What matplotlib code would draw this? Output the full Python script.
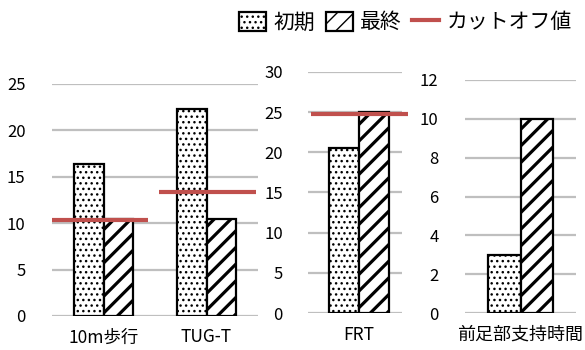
import matplotlib
matplotlib.use("Agg")
import matplotlib.pyplot as plt
from matplotlib.patches import Patch
from matplotlib.lines import Line2D

plt.rcParams['font.family'] = ['Noto Sans CJK JP', 'DejaVu Sans']

# ---- data ----
cats_a = ["10m歩行", "TUG-T"]
init_a = [16.4, 22.3]
final_a = [10.5, 10.5]
cut_a = [10.3, 13.4]

cats_b = ["FRT"]
init_b = [20.5]
final_b = [25.0]
cut_b = [24.8]

cats_c = ["前足部支持時間"]
init_c = [3.0]
final_c = [10.0]

yt_a = [0, 5, 10, 15, 20, 25]
yt_b = [0, 5, 10, 15, 20, 25, 30]
yt_c = [0, 2, 4, 6, 8, 10, 12]

legend_labels = ["初期", "最終", "カットオフ値"]

RED = "#C0504D"
GRID = "#BFBFBF"
W, H = 585, 350

fig = plt.figure(figsize=(W / 100, H / 100), dpi=100)


def add_ax(x0, x1, ytop, ybot):
    return fig.add_axes([x0 / W, (H - ybot) / H, (x1 - x0) / W, (ybot - ytop) / H])


def style(ax, ylim, yticks, pad):
    ax.set_ylim(*ylim)
    ax.set_yticks(yticks)
    for s in ax.spines.values():
        s.set_visible(False)
    ax.tick_params(axis='both', length=0, labelsize=12, colors='black')
    ax.tick_params(axis='y', pad=pad)
    ax.tick_params(axis='x', pad=9, labelsize=12.5)
    ax.grid(axis='y', color=GRID, linewidth=1.6)
    ax.set_axisbelow(True)


def set_hlw(p, lw):
    try:
        p.set_hatch_linewidth(lw)
    except Exception:
        pass


def bars(ax, xs, vals, offset, width, hatch, hlw):
    bs = ax.bar([x + offset for x in xs], vals, width=width, align='edge',
                facecolor='white', edgecolor='black', linewidth=1.6, hatch=hatch,
                zorder=3)
    for b in bs:
        set_hlw(b, hlw)
    return bs


DOT = '...'
DIAG = '//'
DOT_LW = 1.0
DIAG_LW = 2.3

# panel A
ax1 = add_ax(52, 258, 84, 316)
xa = list(range(len(cats_a)))
style(ax1, (0, 25), yt_a, 19)
ax1.set_xlim(-0.5, len(cats_a) - 0.5)
w = 0.29
bars(ax1, xa, init_a, -w, w, DOT, DOT_LW)
bars(ax1, xa, final_a, 0, w, DIAG, DIAG_LW)
ext_a = [(-0.50, 0.43), (-0.46, 0.48)]
for x, c, (l, r) in zip(xa, cut_a, ext_a):
    ax1.plot([x + l, x + r], [c, c], color=RED, linewidth=3, zorder=4,
             solid_capstyle='butt', clip_on=False)
ax1.set_xticks(xa)
ax1.set_xticklabels(cats_a)

# panel B
ax2 = add_ax(308, 402, 72, 313)
style(ax2, (0, 30), yt_b, 18)
ax2.set_xlim(-0.5, 0.5)
xb = [0.04]
wb = 0.32
bars(ax2, xb, init_b, -wb, wb, DOT, DOT_LW)
bars(ax2, xb, final_b, 0, wb, DIAG, DIAG_LW)
for x, c in zip([0.0], cut_b):
    ax2.plot([x - 0.47, x + 0.56], [c, c], color=RED, linewidth=3, zorder=4,
             solid_capstyle='butt', clip_on=False)
ax2.set_xticks(xb)
ax2.set_xticklabels(cats_b)

# panel C
ax3 = add_ax(465, 576, 80, 313)
style(ax3, (0, 12), yt_c, 19)
ax3.set_xlim(-0.5, 0.5)
xc = [0.0]
wc = 0.29
bars(ax3, xc, init_c, -wc, wc, DOT, DOT_LW)
bars(ax3, xc, final_c, 0, wc, DIAG, DIAG_LW)
ax3.set_xticks(xc)
ax3.set_xticklabels(cats_c, fontsize=13)

# legend
h1 = Patch(facecolor='white', edgecolor='black', hatch=DOT, linewidth=1.6)
h2 = Patch(facecolor='white', edgecolor='black', hatch=DIAG, linewidth=1.6)
set_hlw(h1, DOT_LW)
set_hlw(h2, DIAG_LW)
h3 = Line2D([0], [0], color=RED, linewidth=3)
fig.legend([h1, h2, h3], legend_labels, loc='upper right',
           bbox_to_anchor=(580 / W, 1 - 3 / H), ncol=3, frameon=False,
           fontsize=15, handlelength=1.3, handleheight=1.0,
           handletextpad=0.35, columnspacing=0.5, borderaxespad=0)

fig.savefig("out.png", dpi=100)
